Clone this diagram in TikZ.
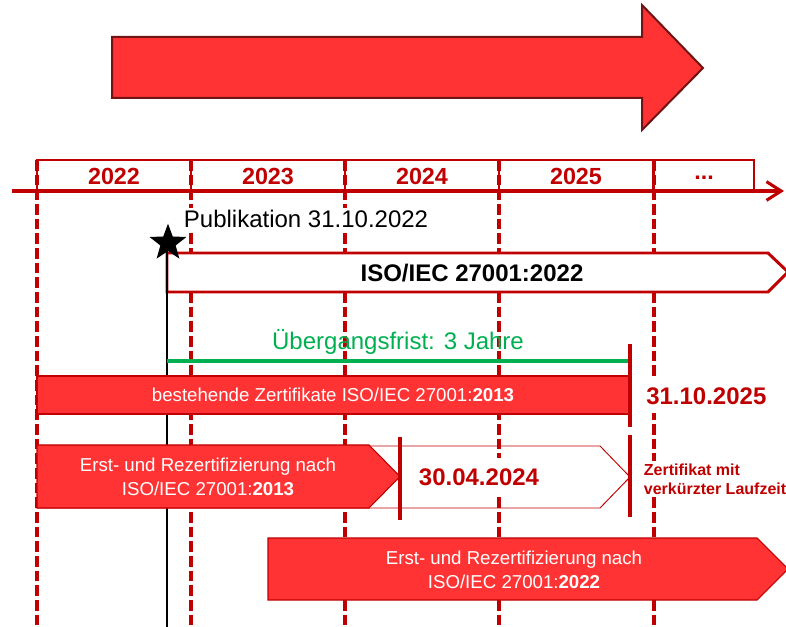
\documentclass[tikz,border=0pt]{standalone}
\usepackage{fontspec}
\setmainfont{Liberation Sans}
\usetikzlibrary{positioning, shapes.geometric, arrows.meta}
\definecolor{dunkelrot}{RGB}{192,0,0}
\definecolor{hellrot}{RGB}{255,51,51}
\definecolor{pfeilrand}{RGB}{112,20,20}
\definecolor{gruen}{RGB}{0,176,80}
\tikzset{
  jahr/.style={text=dunkelrot, font=\fontsize{17.5}{20}\selectfont\bfseries},
  jahrbox/.style={draw=dunkelrot, line width=1.1pt},
  trenner/.style={draw=dunkelrot, line width=2.6pt, dash pattern=on 8pt off 3pt},
  balken/.style={fill=hellrot, draw=dunkelrot, line width=0.8pt},
  weisstext/.style={text=white, font=\fontsize{14}{18}\selectfont, align=center},
  datum/.style={text=dunkelrot, font=\fontsize{18}{21}\selectfont\bfseries, fill=white, inner sep=3pt},
  frist/.style={draw=dunkelrot, line width=3.5pt},
}

\begin{document}
\begin{tikzpicture}[x=0.75pt, y=-0.75pt]
\useasboundingbox (0,0) rectangle (786,627);

% grosser Pfeil oben
\draw[fill=hellrot, draw=pfeilrand, line width=1.5pt]
  (112,37) -- (642,37) -- (642,5) -- (703,68) -- (642,130) -- (642,98) -- (112,98) -- cycle;

% Jahresleiste
\foreach \jahr [count=\i from 0] in {2022,2023,2024,2025}{
  \draw[jahrbox] (37+154*\i,160) rectangle (191+154*\i,191);
  \node[jahr] (j\jahr) at (114+154*\i,176) {\jahr};
}
\draw[jahrbox] (654,160) rectangle (754,191);
\node[jahr] (jrest) at (704,178) {...};

% Trennlinien
\foreach \x [count=\i] in {37,191,345,499,654}{
  \coordinate (o\i) at (\x,160);
  \coordinate (u\i) at (\x,627);
  \draw[trenner] (o\i) -- (u\i);
}
\coordinate (achse-a) at (12,191);
\coordinate (achse-b) at (784,191);
\draw[dunkelrot, line width=2.3pt, -{Straight Barb[length=11pt, width=14pt, line width=2.3pt]}] (achse-a) -- (achse-b);

% Publikation
\node[fill=white, inner sep=2pt, anchor=west, font=\fontsize{18}{21}\selectfont] (publtext) at (181,219) {Publikation 31.10.2022};
\draw[draw=dunkelrot, fill=white, line width=2.2pt]
  (167,253) -- (768,253) -- (788,272) -- (768,292) -- (167,292) -- cycle;
\node[font=\fontsize{18}{21}\selectfont\bfseries] (iso) at (472,273) {ISO/IEC 27001:2022};
\coordinate (publ-u) at (167,627);
\coordinate (publ-o) at (167,243);
\draw[black, line width=1.6pt] (publ-o) -- (publ-u);
\node[star, star points=5, star point ratio=2.4, fill=black, minimum size=29pt, inner sep=0pt] (publ) at (168,243) {};

% Uebergangsfrist
\coordinate (gruen-a) at (167,361);
\coordinate (gruen-b) at (630,361);
\draw[gruen, line width=3pt] (gruen-a) -- (gruen-b);
\node[text=gruen, font=\fontsize{18}{21}\selectfont] (fristtext) at (398,342) {Übergangsfrist: 3 Jahre};

% bestehende Zertifikate
\draw[balken, line width=2pt] (37,376) rectangle (630,414);
\node[weisstext] (bestand) at (333,395) {bestehende Zertifikate ISO/IEC 27001:\textbf{2013}};

% Erst- und Rezertifizierung 2013
\draw[draw=dunkelrot, line width=0.7pt]
  (37,446) -- (600,446) -- (630,477) -- (600,508) -- (37,508);
\draw[balken] (37,445) -- (369,445) -- (400,476.5) -- (369,508) -- (37,508) -- cycle;
\node[weisstext] (erst13) at (208,477) {Erst- und Rezertifizierung nach\\ISO/IEC 27001:\textbf{2013}};
\node[datum, inner ysep=8pt] (ende13) at (479,477) {30.04.2024};

% Erst- und Rezertifizierung 2022
\draw[balken] (268,538) -- (757,538) -- (788,569) -- (757,600) -- (268,600) -- cycle;
\node[weisstext] (erst22) at (514,570) {Erst- und Rezertifizierung nach\\ISO/IEC 27001:\textbf{2022}};

% Fristen
\coordinate (f1-o) at (630,344);
\coordinate (f1-u) at (630,427);
\coordinate (f2-o) at (630,435);
\coordinate (f2-u) at (630,517);
\coordinate (f3-o) at (400,437);
\coordinate (f3-u) at (400,520);
\draw[frist] (f1-o) -- (f1-u);
\draw[frist] (f2-o) -- (f2-u);
\draw[frist] (f3-o) -- (f3-u);
\node[datum, anchor=west, inner ysep=6pt] (ende) at (642,396) {31.10.2025};
\node[anchor=west, fill=white, text=dunkelrot, align=left, inner sep=2pt,
  font=\fontsize{12}{14}\selectfont\bfseries] (kurz) at (641,479) {Zertifikat mit\\verkürzter Laufzeit};
\end{tikzpicture}
\end{document}
